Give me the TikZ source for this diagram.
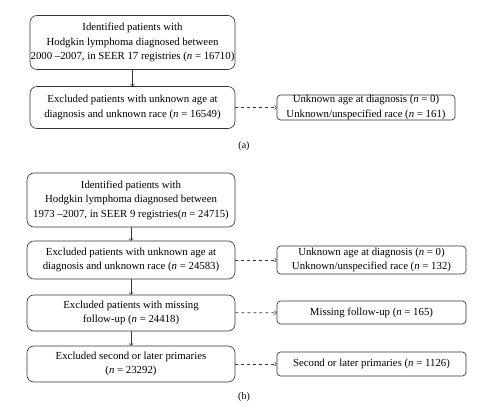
\documentclass[tikz,border=0pt]{standalone}
\usepackage{fontspec}
\setmainfont{Liberation Serif}
\usepackage{tikz}

\newcommand{\nn}{\textit{n}}

\begin{document}
\begin{tikzpicture}[x=1pt,y=-1pt,
    box/.style={draw=black!80,line width=0.65pt,rounded corners=7pt,align=center,
      font=\fontsize{10.8}{14.5}\selectfont,inner sep=0pt},
    sidebox/.style={box,rounded corners=3.5pt},
    flow/.style={->,draw=black!80,line width=0.65pt},
    skip/.style={->,draw=black!80,line width=0.65pt,dashed},
    caption/.style={font=\fontsize{10}{12}\selectfont}]
      \useasboundingbox (0,0) rectangle (480,406);
      % (a)
      \node[box,minimum width=205,minimum height=54] (idA) at (132.5,42.5)
        {Identified patients with\\Hodgkin lymphoma diagnosed between\\2000 --2007, in SEER 17 registries (\nn{} = 16710)};
      \node[box,minimum width=205,minimum height=42] (exA) at (132.5,107.5)
        {Excluded patients with unknown age at\\diagnosis and unknown race (\nn{} = 16549)};
      \node[sidebox,minimum width=178,minimum height=25] (unkA) at (366,107.5)
        {Unknown age at diagnosis (\nn{} = 0)\\Unknown/unspecified race (\nn{} = 161)};
      \node[caption] (capA) at (244,146) {(a)};
      \draw[flow] (idA) -- (exA);
      \draw[skip] (exA) -- (unkA);
      % (b)
      \node[box,minimum width=208,minimum height=54] (idB) at (131,200)
        {Identified patients with\\Hodgkin lymphoma diagnosed between\\1973 --2007, in SEER 9 registries(\nn{} = 24715)};
      \node[box,minimum width=208,minimum height=38] (exB) at (131,260)
        {Excluded patients with unknown age at\\diagnosis and unknown race (\nn{} = 24583)};
      \node[sidebox,minimum width=189,minimum height=28] (unkB) at (371.5,260)
        {Unknown age at diagnosis (\nn{} = 0)\\Unknown/unspecified race (\nn{} = 132)};
      \node[box,minimum width=208,minimum height=36] (fuB) at (131,313)
        {Excluded patients with missing\\follow-up (\nn{} = 24418)};
      \node[sidebox,minimum width=189,minimum height=23] (missB) at (371.5,312.5)
        {Missing follow-up (\nn{} = 165)};
      \node[box,minimum width=208,minimum height=36] (primB) at (131,364)
        {Excluded second or later primaries\\(\nn{} = 23292)};
      \node[sidebox,minimum width=189,minimum height=24] (secB) at (371.5,364)
        {Second or later primaries (\nn{} = 1126)};
      \node[caption] (capB) at (244,397) {(b)};
      \draw[flow] (idB) -- (exB);
      \draw[flow] (exB) -- (fuB);
      \draw[flow] (fuB) -- (primB);
      \draw[skip] (exB) -- (unkB);
      \draw[skip] (fuB) -- (missB);
      \draw[skip] (primB) -- (secB);
\end{tikzpicture}
\end{document}
